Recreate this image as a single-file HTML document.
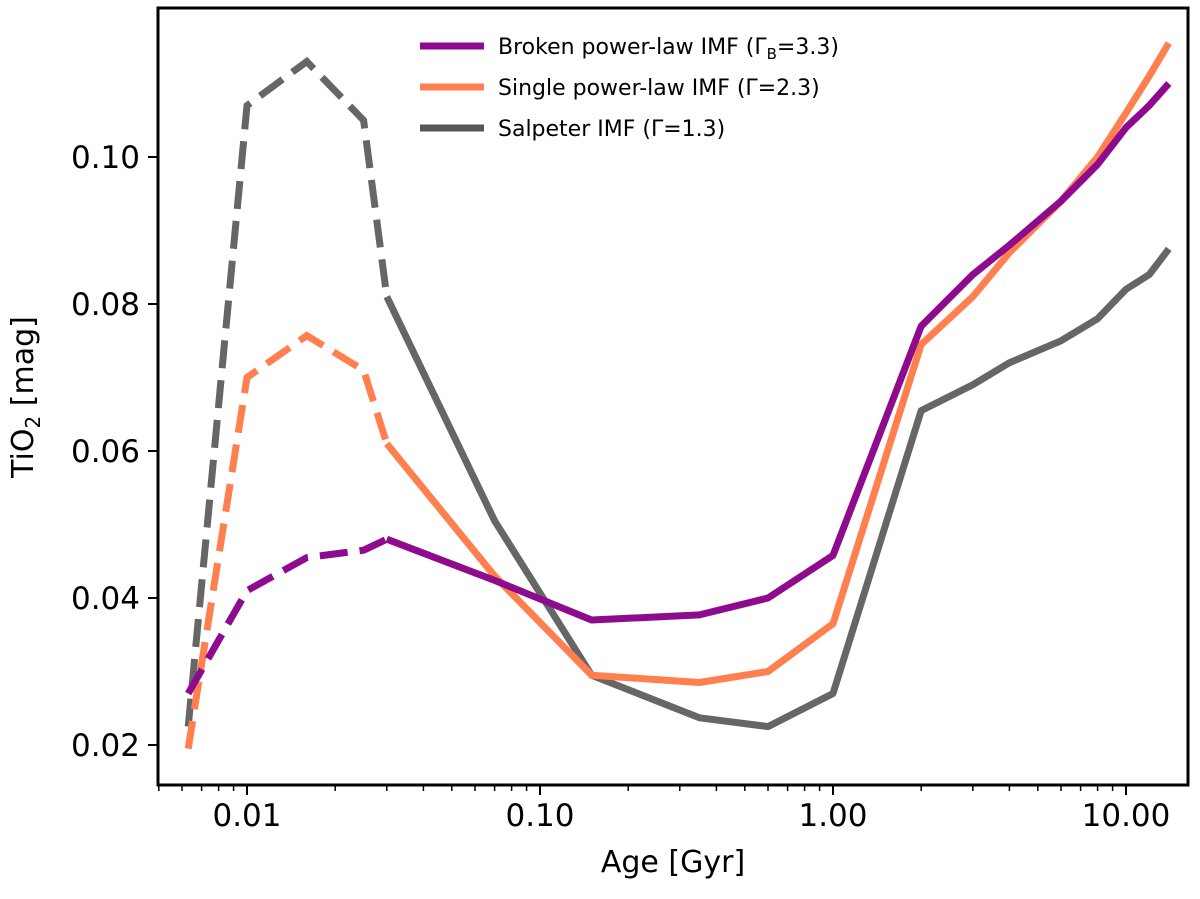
<!DOCTYPE html>
<html><head><meta charset="utf-8"><style>
body{margin:0;background:#fff}
svg{font-family:"DejaVu Sans","Liberation Sans",sans-serif}
</style></head><body>
<svg id="chart" width="1200" height="894">
<g id="marks"></g>
<rect x="158" y="8" width="1030" height="777" fill="none" stroke="#000" stroke-width="3"/>
<g id="axes"></g>
<text x="673" y="872" font-size="30" text-anchor="middle">Age [Gyr]</text>
<text transform="translate(33,397) rotate(-90)" font-size="30" text-anchor="middle">TiO<tspan font-size="20" dy="7">2</tspan><tspan dy="-7"> [mag]</tspan></text>
<g>
<line x1="420" y1="46" x2="484" y2="46" stroke="#8e0b8e" stroke-width="7"/>
<text x="498" y="54" font-size="22">Broken power-law IMF (Γ<tspan font-size="15" dy="5">B</tspan><tspan dy="-5">=3.3)</tspan></text>
<line x1="420" y1="87" x2="484" y2="87" stroke="#ff7f4f" stroke-width="7"/>
<text x="498" y="95" font-size="22">Single power-law IMF (Γ=2.3)</text>
<line x1="420" y1="128" x2="484" y2="128" stroke="#555" stroke-width="7"/>
<text x="498" y="136" font-size="22">Salpeter IMF (Γ=1.3)</text>
</g>
</svg>
<script>
const ages=[0.0063,0.01,0.016,0.025,0.03,0.07,0.15,0.35,0.6,1,2,3,4,6,8,10,12,14];
const broken=[0.027,0.041,0.0455,0.0465,0.048,0.0424,0.037,0.0377,0.040,0.0458,0.077,0.084,0.088,0.094,0.099,0.104,0.107,0.110];
const single=[0.0195,0.070,0.0757,0.071,0.061,0.043,0.0295,0.0285,0.030,0.0365,0.0745,0.081,0.087,0.094,0.100,0.106,0.111,0.1155];
const salpeter=[0.0225,0.107,0.113,0.105,0.081,0.0505,0.0295,0.0237,0.0225,0.027,0.0655,0.069,0.072,0.075,0.078,0.082,0.084,0.0875];
const xTicks=[0.01,0.1,1,10];
const xTickLabels=["0.01","0.10","1.00","10.00"];
const yTicks=[0.02,0.04,0.06,0.08,0.10];
const yTickLabels=["0.02","0.04","0.06","0.08","0.10"];
const dashLimit=0.03;
const NS="http://www.w3.org/2000/svg";
function X(a){return 247+293*(Math.log10(a)+2);}
function Y(v){return 745-(v-0.02)*7350;}
function mk(t,at,p){const e=document.createElementNS(NS,t);for(const k in at)e.setAttribute(k,at[k]);p.appendChild(e);return e;}
const marks=document.getElementById('marks'),axes=document.getElementById('axes');
function series(vals,color,name,op){
  let dp="",sp="";
  ages.forEach((a,i)=>{const pt=X(a).toFixed(1)+","+Y(vals[i]).toFixed(1);
    if(a<=dashLimit)dp+=(dp?"L":"M")+pt;
    if(a>=dashLimit)sp+=(sp?"L":"M")+pt;});
  const d=mk('path',{d:dp,fill:'none',stroke:color,'stroke-width':7,'stroke-dasharray':'28,12','stroke-opacity':op},marks);
  
  
  const s=mk('path',{d:sp,fill:'none',stroke:color,'stroke-width':7,'stroke-linejoin':'round','stroke-opacity':op},marks);
  
  
}
series(salpeter,'#333','salpeter',0.75);
series(single,'#ff7f4f','single-power-law',1);
series(broken,'#8e0b8e','broken-power-law',1);
xTicks.forEach((t,i)=>{const x=X(t);
  mk('line',{x1:x,y1:785,x2:x,y2:795,stroke:'#000','stroke-width':2},axes);
  const tx=mk('text',{x:x,y:826,'font-size':31,'text-anchor':'middle'},axes);tx.textContent=xTickLabels[i];
  
  
});
for(let dec=-3;dec<=1;dec++)for(let m=2;m<=9;m++){const a=m*Math.pow(10,dec);const x=X(a);if(x<158||x>1188)continue;
  mk('line',{x1:x,y1:785,x2:x,y2:791,stroke:'#000','stroke-width':1.5},axes);}
yTicks.forEach((t,i)=>{const y=Y(t);
  mk('line',{x1:148,y1:y,x2:158,y2:y,stroke:'#000','stroke-width':2},axes);
  const tx=mk('text',{x:140,y:y+11,'font-size':31,'text-anchor':'end'},axes);tx.textContent=yTickLabels[i];
  
  
});
</script>
</body></html>
